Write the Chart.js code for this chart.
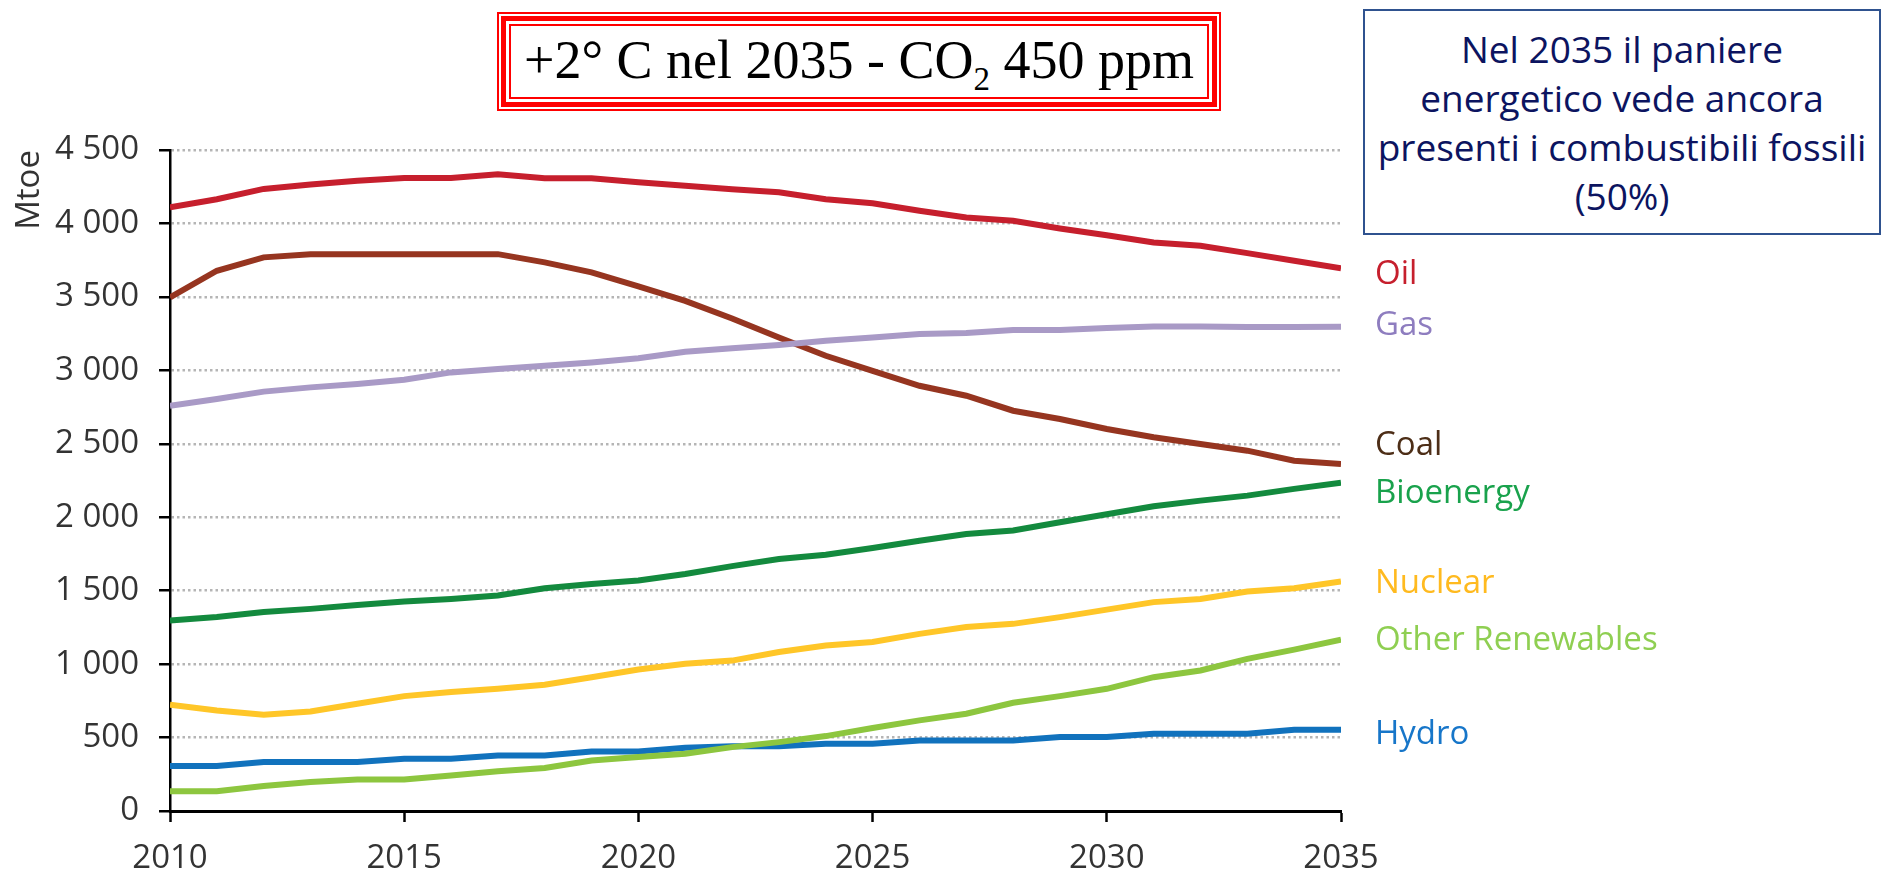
<!DOCTYPE html>
<html lang="it">
<head>
<meta charset="utf-8">
<title>+2° C nel 2035 - CO2 450 ppm</title>
<script src="https://cdn.jsdelivr.net/npm/chart.js@4/dist/chart.umd.min.js"></script>
<style>
  html, body { margin: 0; padding: 0; background: #fff; }
  body { width: 1887px; height: 875px; position: relative; overflow: hidden; }
  #wrap { position: absolute; left: 0; top: 0; width: 1887px; height: 875px; }
  #titleBox {
    position: absolute; left: 497px; top: 12px; width: 724px; height: 99px;
    box-sizing: border-box; border: 2px solid #ff0000; padding: 2px; background: #fff;
  }
  #titleBox .mid { box-sizing: border-box; height: 100%; border: 5px solid #ff0000; padding: 3px; }
  #titleBox .inner {
    box-sizing: border-box; height: 100%; border: 2px solid #ff0000;
    display: flex; align-items: center; justify-content: center;
    font-family: "Liberation Serif", "Times New Roman", serif; font-size: 54px; color: #000;
    white-space: nowrap; line-height: 1;
  }
  #titleBox .inner span.t { display: inline-block; position: relative; top: -2px; }
  #titleBox .sub { font-size: 33px; position: relative; top: 12px; }
  #note {
    position: absolute; left: 1363px; top: 9px; width: 518px; height: 226px;
    box-sizing: border-box; border: 2px solid #2f528f; background: #fff;
    display: flex; align-items: center; justify-content: center; text-align: center;
    font-family: "Open Sans", sans-serif; font-size: 37px; line-height: 49px; color: #0c1460;
  }
</style>
</head>
<body>
<div id="wrap"><canvas id="chart" width="1887" height="875"></canvas></div>
<div id="titleBox"><div class="mid"><div class="inner"><span class="t">+2° C nel 2035 - CO<span class="sub">2</span> 450 ppm</span></div></div></div>
<div id="note"><div>Nel 2035 il paniere<br>energetico vede ancora<br>presenti i combustibili fossili<br>(50%)</div></div>
<script>
// Primary energy demand by fuel, 450 ppm scenario (Mtoe)
const years = [2010, 2011, 2012, 2013, 2014, 2015, 2016, 2017, 2018, 2019, 2020, 2021, 2022,
               2023, 2024, 2025, 2026, 2027, 2028, 2029, 2030, 2031, 2032, 2033, 2034, 2035];

const oil = [4110, 4165, 4235, 4265, 4290, 4310, 4310, 4335, 4308, 4308, 4280, 4256, 4233,
             4212, 4165, 4138, 4086, 4040, 4018, 3966, 3920, 3870, 3848, 3798, 3746, 3695];
const gas = [2759, 2805, 2855, 2884, 2907, 2936, 2986, 3009, 3031, 3054, 3082, 3127, 3150,
             3172, 3201, 3224, 3247, 3254, 3274, 3274, 3288, 3299, 3299, 3295, 3295, 3297];
const coal = [3497, 3678, 3769, 3791, 3791, 3791, 3791, 3791, 3735, 3667, 3571, 3473, 3353,
              3224, 3099, 2997, 2895, 2827, 2725, 2669, 2601, 2544, 2499, 2453, 2385, 2363];
const bioenergy = [1297, 1320, 1354, 1376, 1403, 1426, 1444, 1467, 1517, 1546, 1569, 1614, 1667,
                   1716, 1744, 1790, 1840, 1886, 1910, 1966, 2020, 2075, 2113, 2147, 2193, 2235];
const nuclear = [723, 684, 655, 678, 730, 782, 810, 832, 859, 911, 963, 1002, 1024,
                 1082, 1127, 1150, 1206, 1252, 1274, 1320, 1371, 1422, 1444, 1494, 1517, 1562];
const otherRenewables = [134, 134, 170, 197, 215, 215, 242, 270, 293, 344, 367, 390, 435,
                         469, 510, 565, 617, 662, 737, 782, 832, 911, 957, 1036, 1099, 1167];
const hydro = [306, 306, 333, 333, 333, 356, 356, 378, 378, 405, 405, 431, 440,
               440, 458, 458, 480, 480, 480, 503, 503, 526, 526, 526, 553, 553];

const seriesNames = ['Oil', 'Gas', 'Coal', 'Bioenergy', 'Nuclear', 'Other Renewables', 'Hydro'];
const seriesValues = [oil, gas, coal, bioenergy, nuclear, otherRenewables, hydro];

// styling
const lineColors  = ['#c61f2d', '#a99ac6', '#963520', '#138a3e', '#ffc628', '#8dc63f', '#1172bd'];
const labelColors = ['#c61f2d', '#8e7dbf', '#4d2e17', '#19a24c', '#ffba1f', '#8fcf52', '#1776c9'];
// vertical nudges (px) so the end labels do not collide
const labelNudge  = [4, -3, -21, 9, 0, -1, 2];

const FONT = '"Open Sans", sans-serif';

function thousands(v) {
  if (v < 1000) return String(v);
  const r = v % 1000;
  return Math.floor(v / 1000) + ' ' + String(r).padStart(3, '0');
}

const endLabels = {
  id: 'endLabels',
  afterDatasetsDraw(chart) {
    const {ctx, chartArea, scales} = chart;
    const size = 33;
    ctx.save();
    ctx.font = size + 'px ' + FONT;
    ctx.textAlign = 'left';
    ctx.textBaseline = 'alphabetic';
    chart.data.datasets.forEach((ds, i) => {
      const last = ds.data[ds.data.length - 1].y;
      const y = scales.y.getPixelForValue(last) + labelNudge[i] + size * 0.357;
      ctx.fillStyle = labelColors[i];
      ctx.fillText(ds.label, chartArea.right + 34, y);
    });
    ctx.restore();
  }
};

new Chart(document.getElementById('chart'), {
  type: 'line',
  data: {
    datasets: seriesNames.map((name, i) => ({
      label: name,
      data: years.map((yr, j) => ({x: yr, y: seriesValues[i][j]})),
      borderColor: lineColors[i],
      backgroundColor: lineColors[i],
      borderWidth: 6,
      pointRadius: 0,
      pointHoverRadius: 0,
      tension: 0,
      fill: false
    }))
  },
  options: {
    responsive: false,
    animation: false,
    events: [],
    layout: { padding: { top: 150, right: 546, left: 0, bottom: 0 } },
    plugins: { legend: { display: false }, tooltip: { enabled: false }, title: { display: false } },
    scales: {
      x: {
        type: 'linear',
        min: 2010, max: 2035,
        afterFit(scale) { scale.height = 64; },
        ticks: {
          stepSize: 5,
          callback: v => String(v),
          font: { family: FONT, size: 33 },
          color: '#333333',
          padding: 17,
          maxRotation: 0
        },
        grid: {
          drawOnChartArea: false,
          drawTicks: true,
          tickLength: 11,
          tickWidth: 2.5,
          tickColor: '#000000',
          color: '#000000'
        },
        border: { display: true, color: '#000000', width: 3 }
      },
      y: {
        min: 0, max: 4500,
        afterFit(scale) { scale.width = 170; },
        ticks: {
          stepSize: 500,
          callback: v => thousands(v),
          font: { family: FONT, size: 33 },
          color: '#333333',
          padding: 20
        },
        grid: {
          color: '#b5b5b5',
          lineWidth: 2.5,
          drawTicks: true,
          tickLength: 11,
          tickWidth: 2.5,
          tickColor: '#000000'
        },
        border: { display: true, color: '#000000', width: 2.5, dash: [2.5, 3] },
        title: {
          display: true,
          text: 'Mtoe',
          align: 'end',
          color: '#333333',
          font: { family: FONT, size: 33 },
          padding: { top: 10, bottom: 0 }
        }
      }
    }
  },
  plugins: [endLabels]
});
</script>
</body>
</html>
